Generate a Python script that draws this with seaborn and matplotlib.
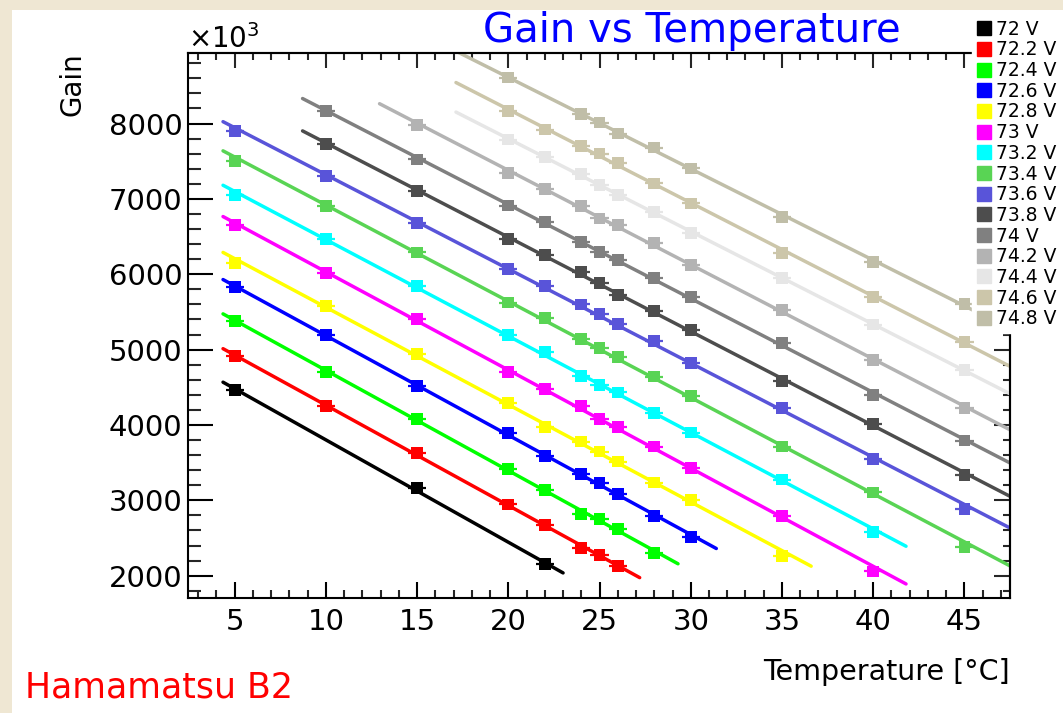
import numpy as np
import pandas as pd
import matplotlib
matplotlib.use("Agg")
import matplotlib.pyplot as plt
import seaborn as sns
from matplotlib.lines import Line2D
from matplotlib.patches import Rectangle
from matplotlib.ticker import MultipleLocator, NullFormatter

# ---------------- data ----------------
voltages = ["72 V", "72.2 V", "72.4 V", "72.6 V", "72.8 V", "73 V", "73.2 V",
            "73.4 V", "73.6 V", "73.8 V", "74 V", "74.2 V", "74.4 V", "74.6 V", "74.8 V"]
colors = ["#000000", "#ff0000", "#00ff00", "#0000ff", "#ffff00", "#ff00ff", "#00ffff",
          "#59d454", "#5954d9", "#4d4d4d", "#808080", "#b3b3b3", "#e6e6e6", "#ccc6aa", "#c0bea8"]

t_720 = [5, 15, 22]
g_720 = [4465, 3162, 2150]
t_722 = [5, 10, 15, 20, 22, 24, 25, 26]
g_722 = [4916, 4253, 3626, 2945, 2676, 2367, 2278, 2124]
t_724 = [5, 10, 15, 20, 22, 24, 25, 26, 28]
g_724 = [5384, 4708, 4077, 3420, 3135, 2822, 2751, 2619, 2301]
t_726 = [5, 10, 15, 20, 22, 24, 25, 26, 28, 30]
g_726 = [5826, 5194, 4518, 3895, 3590, 3351, 3227, 3086, 2795, 2512]
t_728 = [5, 10, 15, 20, 22, 24, 25, 26, 28, 30, 35]
g_728 = [6153, 5579, 4943, 4289, 3975, 3780, 3647, 3515, 3236, 3006, 2264]
t_730 = [5, 10, 15, 20, 22, 24, 25, 26, 28, 30, 35, 40]
g_730 = [6652, 6012, 5402, 4708, 4474, 4253, 4077, 3971, 3714, 3427, 2795, 2057]
t_732 = [5, 10, 15, 20, 22, 24, 25, 26, 28, 30, 35, 40]
g_732 = [7050, 6463, 5848, 5195, 4967, 4647, 4531, 4431, 4156, 3900, 3276, 2579]
t_734 = [5, 10, 15, 20, 22, 24, 25, 26, 28, 30, 35, 40, 45]
g_734 = [7504, 6908, 6290, 5625, 5416, 5140, 5026, 4899, 4642, 4386, 3714, 3104, 2380]
t_736 = [5, 10, 15, 20, 22, 24, 25, 26, 28, 30, 35, 40, 45]
g_736 = [7902, 7302, 6683, 6065, 5840, 5600, 5473, 5340, 5110, 4819, 4223, 3547, 2884]
t_738 = [10, 15, 20, 22, 24, 25, 26, 28, 30, 35, 40, 45]
g_738 = [7726, 7107, 6470, 6255, 6033, 5879, 5720, 5510, 5261, 4584, 4015, 3339]
t_740 = [10, 15, 20, 22, 24, 25, 26, 28, 30, 35, 40, 45]
g_740 = [8167, 7523, 6912, 6696, 6430, 6294, 6188, 5946, 5694, 5084, 4399, 3793]
t_742 = [15, 20, 22, 24, 25, 26, 28, 30, 35, 40, 45]
g_742 = [7977, 7348, 7134, 6910, 6741, 6652, 6410, 6122, 5521, 4863, 4223]
t_744 = [20, 22, 24, 25, 26, 28, 30, 35, 40, 45]
g_744 = [7788, 7557, 7330, 7182, 7050, 6829, 6550, 5946, 5333, 4730]
t_746 = [20, 22, 24, 25, 26, 28, 30, 35, 40, 45]
g_746 = [8165, 7920, 7699, 7602, 7478, 7205, 6940, 6285, 5702, 5105]
t_748 = [20, 24, 25, 26, 28, 30, 35, 40, 45]
g_748 = [8610, 8123, 8013, 7867, 7682, 7404, 6762, 6166, 5605]

# linear-fit drawing ranges (temperature, degC)
fit_lo = [4.36, 4.36, 4.36, 4.36, 4.36, 4.36, 4.36, 4.36, 4.36, 8.72, 8.72, 12.94, 17.13, 17.13, 17.13]
fit_hi = [23.0, 27.2, 29.3, 31.4, 36.6, 41.8, 41.8, 48.0, 48.0, 48.0, 48.0, 48.0, 48.0, 48.0, 48.0]

temps = [t_720, t_722, t_724, t_726, t_728, t_730, t_732, t_734,
         t_736, t_738, t_740, t_742, t_744, t_746, t_748]
gains = [g_720, g_722, g_724, g_726, g_728, g_730, g_732, g_734,
         g_736, g_738, g_740, g_742, g_744, g_746, g_748]

x_err = 0.5

# ---------------- tables ----------------
rows = []
fit_rows = []
for v, t, g, lo, hi in zip(voltages, temps, gains, fit_lo, fit_hi):
    for ti, gi in zip(t, g):
        rows.append({"Voltage": v, "T": ti, "Gain": gi})
    p = np.polyfit(t, g, 1)
    for xx in (lo, hi):
        fit_rows.append({"Voltage": v, "T": xx, "Gain": np.polyval(p, xx)})
df = pd.DataFrame(rows)
fit_df = pd.DataFrame(fit_rows)
palette = dict(zip(voltages, colors))

# ---------------- figure ----------------
W, H = 1063, 713
sns.set_theme(style="ticks")
plt.rcParams["font.family"] = ["DejaVu Sans"]
plt.rcParams["mathtext.fontset"] = "dejavusans"

fig = plt.figure(figsize=(W / 100, H / 100), dpi=100)
fig.patch.set_facecolor("#efe7d3")
fig.patches.append(Rectangle((12 / W, 0), 1 - 12 / W, 1 - 10 / H,
                             transform=fig.transFigure, facecolor="white",
                             edgecolor="none", zorder=-10))

ax = fig.add_axes([188 / W, 1 - 598 / H, (1010 - 188) / W, (598 - 52.7) / H])
ax.set_facecolor("white")

sns.lineplot(data=fit_df, x="T", y="Gain", hue="Voltage", palette=palette,
             hue_order=voltages, estimator=None, sort=False, linewidth=2.5,
             legend=False, ax=ax, zorder=2)
for v, t, g in zip(voltages, temps, gains):
    ax.errorbar(t, g, xerr=x_err, fmt="none", ecolor=palette[v],
                elinewidth=1.6, capsize=0, zorder=3)
sns.scatterplot(data=df, x="T", y="Gain", hue="Voltage", palette=palette,
                hue_order=voltages, marker="s", s=72, linewidth=0,
                legend=False, ax=ax, zorder=4)

ax.set_xlim(2.44, 47.5)
ax.set_ylim(1704, 8940)
ax.set_xlabel("")
ax.set_ylabel("")
ax.xaxis.set_major_locator(MultipleLocator(5))
ax.xaxis.set_minor_locator(MultipleLocator(1))
ax.yaxis.set_major_locator(MultipleLocator(1000))
ax.yaxis.set_minor_locator(MultipleLocator(200))
for s in ax.spines.values():
    s.set_linewidth(1.5)
    s.set_color("black")
    s.set_visible(True)

ax.tick_params(axis="x", which="major", direction="in", length=11.5, width=1.5,
               labelsize=21, pad=7, colors="black")
ax.tick_params(axis="x", which="minor", direction="in", length=5.8, width=1.5)
ax.tick_params(axis="y", which="major", direction="in", length=18, width=1.5,
               labelsize=21, pad=4, colors="black")
ax.tick_params(axis="y", which="minor", direction="in", length=9.4, width=1.5)

secx = ax.secondary_xaxis("top")
secx.xaxis.set_major_locator(MultipleLocator(5))
secx.xaxis.set_minor_locator(MultipleLocator(1))
secx.xaxis.set_major_formatter(NullFormatter())
secx.tick_params(axis="x", which="major", direction="in", length=11, width=1.5)
secx.tick_params(axis="x", which="minor", direction="in", length=5.2, width=1.5)
secx.spines["top"].set_linewidth(1.5)

secy = ax.secondary_yaxis("right")
secy.yaxis.set_major_locator(MultipleLocator(1000))
secy.yaxis.set_minor_locator(MultipleLocator(200))
secy.yaxis.set_major_formatter(NullFormatter())
secy.tick_params(axis="y", which="major", direction="in", length=11.5, width=1.5)
secy.tick_params(axis="y", which="minor", direction="in", length=5, width=1.5)
secy.spines["right"].set_linewidth(1.5)

# ---------------- texts ----------------
fig.text(692 / W, 1 - 42 / H, "Gain vs Temperature", color="#0000ff",
         fontsize=29, ha="center", va="baseline")
fig.text(25 / W, 1 - 697 / H, "Hamamatsu B2", color="#ff0000",
         fontsize=25, ha="left", va="baseline")
fig.text(1010 / W, 1 - 680 / H, "Temperature [°C]", fontsize=20.5,
         ha="right", va="baseline", color="black")
fig.text(72 / W, 1 - 52 / H, "Gain", rotation=90, fontsize=20,
         ha="center", va="top", color="black")
fig.text(188 / W, 1 - 48 / H, r"$\times10^{3}$", fontsize=20,
         ha="left", va="baseline", color="black")

# ---------------- legend ----------------
handles = [Line2D([], [], marker="s", linestyle="none", color=c, markersize=9.5)
           for c in colors]
leg = fig.legend(handles, voltages, loc="upper left",
                 bbox_to_anchor=(972 / W, 1 - 15 / H), frameon=True,
                 facecolor="white", edgecolor="white", framealpha=1,
                 fancybox=False, fontsize=13.5, labelspacing=0.09,
                 handlelength=0.75, handletextpad=0.3, borderpad=0.25,
                 borderaxespad=0)
leg.set_zorder(10)
for txt in leg.get_texts():
    txt.set_color("black")

fig.savefig("out.png", dpi=100)
